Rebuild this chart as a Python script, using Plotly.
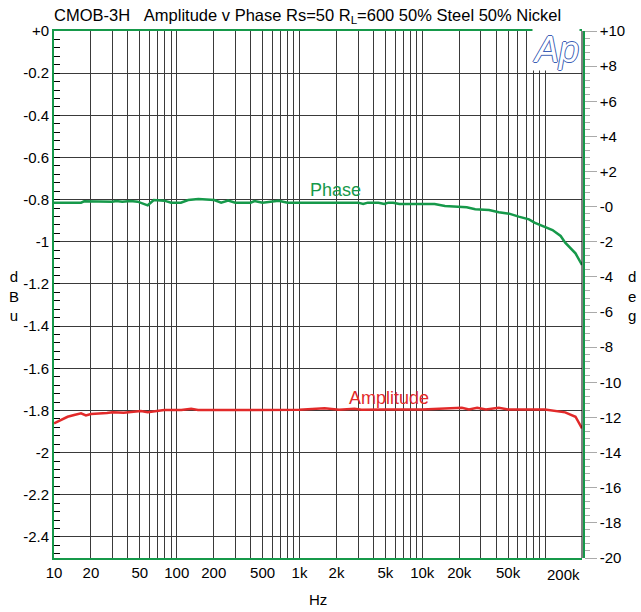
import numpy as np
import plotly.graph_objects as go

# Amplitude response (dBu) vs frequency (Hz)
amp_freq = [10, 11.4, 12.9, 14.6, 16.6, 18.2, 20, 27, 30, 37, 48, 51, 58, 70, 79, 109, 131, 149,
            300, 1000, 1600, 2100, 2800, 3200, 5000, 10000, 21000, 24000, 28000, 33000, 42000,
            50000, 100000, 120000, 146000, 177000, 200000]
amp_dbu = [-1.861, -1.845, -1.830, -1.822, -1.814, -1.824, -1.817, -1.812, -1.809, -1.811, -1.806,
           -1.803, -1.808, -1.803, -1.798, -1.798, -1.792, -1.798, -1.798, -1.797, -1.790, -1.797,
           -1.792, -1.797, -1.795, -1.795, -1.787, -1.795, -1.787, -1.795, -1.787, -1.795, -1.795,
           -1.801, -1.809, -1.830, -1.885]

# Phase response (deg) vs frequency (Hz)
ph_freq = [10, 16.6, 17.6, 25, 30, 32, 36, 42, 48, 58, 65, 79, 90, 108, 124, 150, 202, 230, 262,
           300, 400, 430, 500, 676, 800, 2200, 3000, 3300, 3600, 4400, 4900, 5300, 5800, 6500,
           12600, 15300, 20000, 23000, 27000, 35000, 42000, 51000, 61000, 74000, 82000, 98000,
           115000, 134000, 146000, 177000, 200000]
ph_deg = [0.228, 0.228, 0.304, 0.285, 0.285, 0.323, 0.285, 0.323, 0.285, 0.077, 0.380, 0.342,
          0.228, 0.228, 0.380, 0.437, 0.380, 0.228, 0.342, 0.228, 0.228, 0.323, 0.228, 0.342,
          0.228, 0.228, 0.228, 0.152, 0.228, 0.228, 0.152, 0.228, 0.228, 0.152, 0.152, 0.038,
          -0.038, -0.038, -0.152, -0.190, -0.322, -0.398, -0.569, -0.721, -0.911, -1.138,
          -1.328, -1.670, -2.049, -2.656, -3.320]

# Axis ticks
freq_major = [10, 20, 50, 100, 200, 500, 1000, 2000, 5000, 10000, 20000, 50000]
freq_major_text = ["10", "20", "50", "100", "200", "500", "1k", "2k", "5k", "10k", "20k", "50k"]
freq_minor = [m * 10 ** d for d in range(1, 6) for m in range(1, 10)
              if m * 10 ** d not in freq_major]
db_ticks = [round(-0.2 * i, 1) for i in range(13)]
db_labels = ["+0" if v == 0 else f"{v:g}" for v in db_ticks]
deg_ticks = list(range(10, -21, -2))
deg_labels = [f"+{v}" if v > 0 else ("-0" if v == 0 else str(v)) for v in deg_ticks]

GREEN = "#16994a"
RED = "#e22a2a"
GRID = "#3a3a3a"
LOGO = "#3d5fb5"
FONT = "Liberation Sans, Arial, sans-serif"

fig = go.Figure()
fig.add_trace(go.Scatter(x=amp_freq, y=amp_dbu, mode="lines", name="Amplitude",
                         line=dict(color=RED, width=2.5), yaxis="y"))
fig.add_trace(go.Scatter(x=ph_freq, y=ph_deg, mode="lines", name="Phase",
                         line=dict(color=GREEN, width=2.5), yaxis="y2"))

fig.update_layout(
    width=641, height=612,
    margin=dict(l=54, r=57, t=31, b=54),
    paper_bgcolor="white", plot_bgcolor="white",
    showlegend=False,
    font=dict(family=FONT, size=15, color="black"),
    xaxis=dict(
        type="log", range=[1, np.log10(200000)], domain=[0, 528 / 530],
        tickvals=freq_major, ticktext=freq_major_text,
        ticks="", showgrid=True, gridcolor=GRID, gridwidth=1,
        minor=dict(tickvals=freq_minor, ticks="", showgrid=True, gridcolor=GRID, gridwidth=1),
        showline=True, linecolor=GREEN, linewidth=1.5, mirror=True,
        tickfont=dict(size=15), zeroline=False,
    ),
    yaxis=dict(
        range=[-2.5, 0], tickvals=db_ticks, ticktext=db_labels,
        ticks="inside", ticklen=6, tickcolor="black",
        minor=dict(ticks="inside", ticklen=6, tickcolor="black", dtick=0.04, showgrid=False),
        showgrid=True, gridcolor=GRID, gridwidth=1, zeroline=False,
        showline=True, linecolor=GREEN, linewidth=2,
        tickfont=dict(size=15),
    ),
    yaxis2=dict(
        range=[-20, 10], overlaying="y", side="right", anchor="free", position=1,
        tickvals=deg_ticks, ticktext=deg_labels,
        ticks="outside", ticklen=12, tickcolor="#aaaaaa",
        minor=dict(ticks="outside", ticklen=5, tickcolor="#aaaaaa", dtick=0.4, showgrid=False),
        showgrid=False, zeroline=False,
        showline=True, linecolor=GREEN, linewidth=1.5,
        tickfont=dict(size=15),
    ),
)

# Black frame edge at the right end of the frequency axis
fig.add_shape(type="line", xref="x domain", yref="y domain", x0=1, x1=1, y0=0, y1=1,
              line=dict(color="black", width=1))

annotations = [
    dict(text="CMOB-3H\u00a0\u00a0\u00a0Amplitude v Phase Rs=50 R<sub>L</sub>=600 50% Steel 50% Nickel",
         xref="paper", yref="paper", x=-2 / 530, y=1, xanchor="left", yanchor="bottom",
         yshift=3, showarrow=False, font=dict(size=16.5)),
    dict(text="200k", xref="x", yref="paper", x=np.log10(200000), y=0, xanchor="right",
         yanchor="top", yshift=-6, showarrow=False, font=dict(size=15)),
    dict(text="Hz", xref="paper", yref="paper", x=(318 - 54) / 530, y=0, xanchor="center",
         yanchor="top", yshift=-31, showarrow=False, font=dict(size=15)),
    dict(text="d<br>B<br>u", xref="paper", yref="paper", x=-40 / 530, y=(612 - 54 - 296) / 527,
         xanchor="center", yanchor="middle", showarrow=False, font=dict(size=15)),
    dict(text="d<br>e<br>g", xref="paper", yref="paper", x=(632 - 54) / 530, y=(612 - 54 - 296) / 527,
         xanchor="center", yanchor="middle", showarrow=False, font=dict(size=15)),
    dict(text="Phase", xref="x", yref="y2", x=np.log10(1970), y=0.95, showarrow=False,
         font=dict(size=18, color=GREEN)),
    dict(text="Amplitude", xref="x", yref="y", x=np.log10(5330), y=-1.741, showarrow=False,
         font=dict(size=18, color=RED)),
    dict(text="<i>Ap</i>", xref="x domain", yref="y domain", x=1, y=1, xanchor="right",
         yanchor="top", xshift=-2, yshift=3, showarrow=False, bgcolor="white", borderpad=0,
         font=dict(size=36, color="white", family=FONT,
                   shadow=f"1px 0 0 {LOGO}, -1px 0 0 {LOGO}, 0 1px 0 {LOGO}, 0 -1px 0 {LOGO}")),
]
fig.update_layout(annotations=annotations)

fig.write_html("out.html")
